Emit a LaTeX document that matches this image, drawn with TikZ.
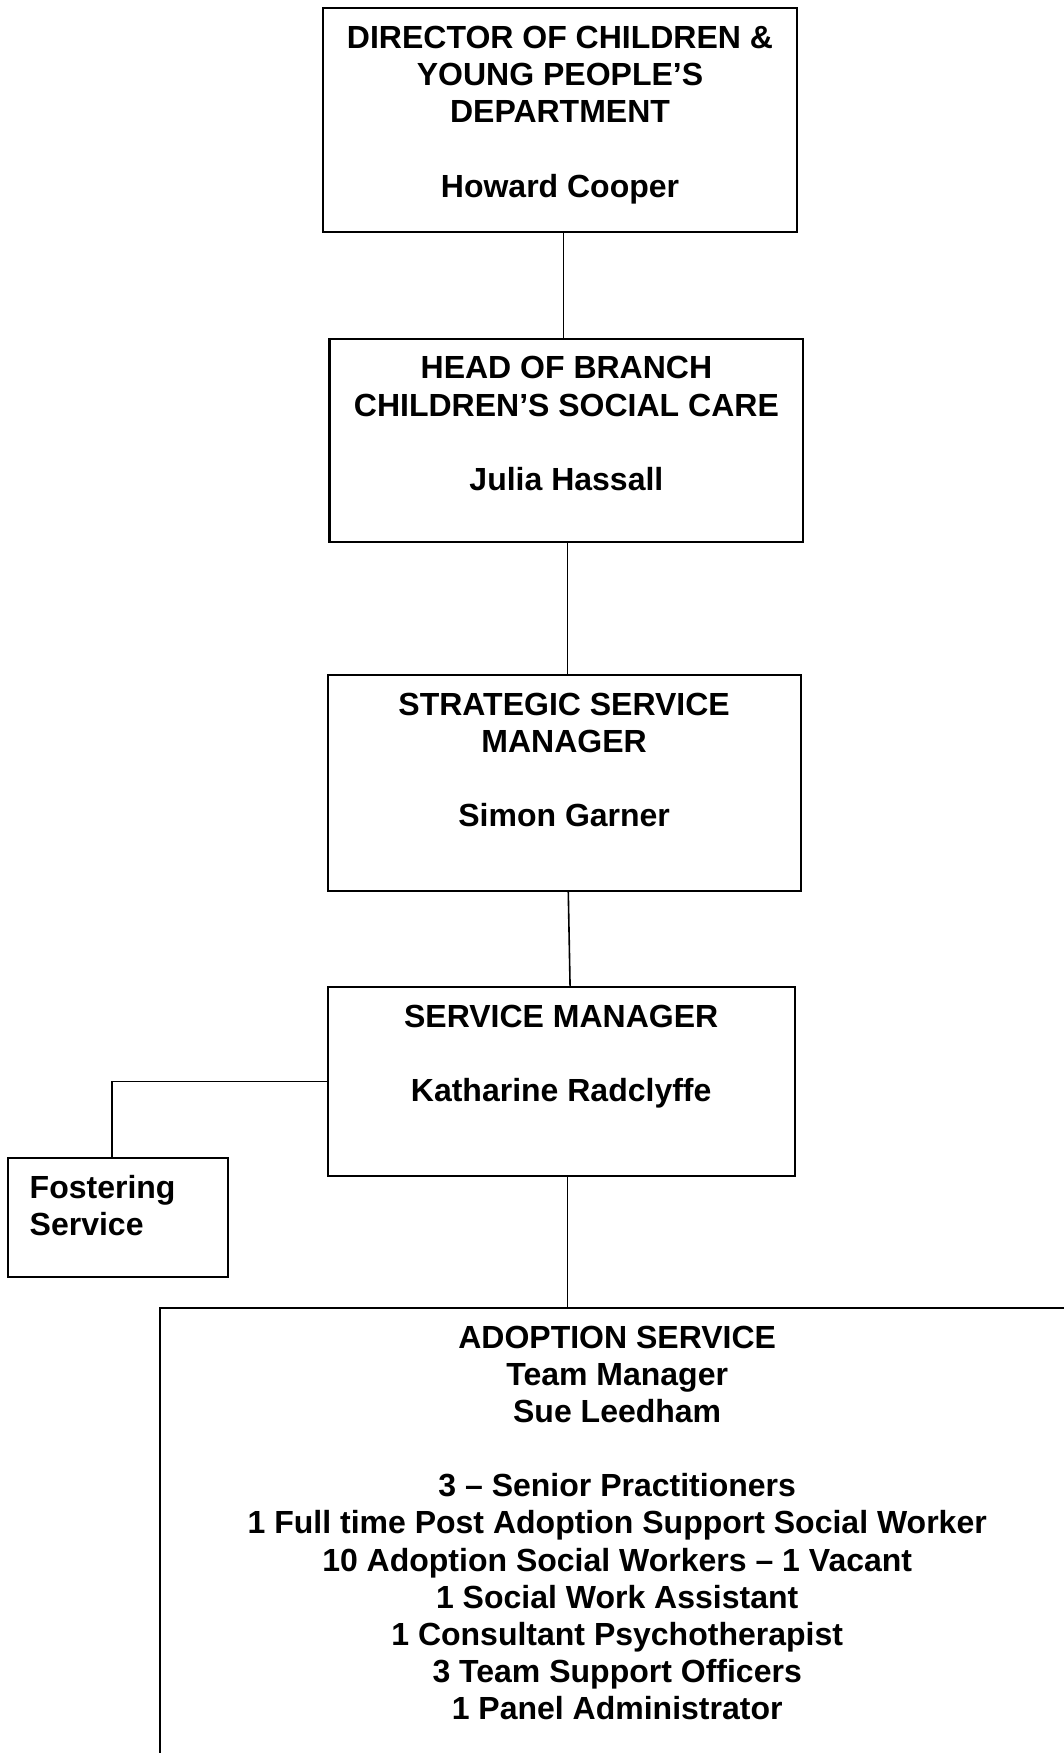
\documentclass[tikz,border=0pt]{standalone}
\usepackage{fontspec}
\setmainfont{Liberation Sans}
\usetikzlibrary{positioning}
\tikzstyle{block} = [rectangle, draw, line width=0.9pt, inner sep=0pt,
    outer sep=0pt, minimum width=207pt]
\tikzstyle{boxtext} = [inner sep=0pt, anchor=north, align=center,
    font=\fontsize{14}{16.25}\selectfont\bfseries]
\tikzstyle{line} = [draw, line width=0.7pt]

\begin{document}
\begin{tikzpicture}
		\useasboundingbox (0,0) rectangle (465.1pt,-766.9pt);
		\node [block, minimum height=97.6pt] (dir) at (245pt,-52.5pt) {};
		\node [block, minimum width=207.3pt, minimum height=88.9pt, below=46.9pt of dir, xshift=2.8pt] (head) {};
		\node [block, minimum height=94.5pt, below=58.2pt of head, xshift=-1pt] (strat) {};
		\node [block, minimum width=204.4pt, minimum height=82.7pt, below=42pt of strat, xshift=-1.3pt] (sm) {};
		\node [block, minimum width=400pt, minimum height=211pt, below=57.75pt of sm, xshift=24.5pt] (adopt) {};
		\node [block, minimum width=96.4pt, minimum height=52.1pt, anchor=north east] (fost) at ([xshift=-43.4pt, yshift=8pt]sm.south west) {};
		
		\node [boxtext] (dirtext) at ([yshift=-7.6pt]dir.north) {DIRECTOR OF CHILDREN \&\\YOUNG PEOPLE’S\\DEPARTMENT\\[16.25pt]Howard Cooper};
		\node [boxtext] (headtext) at ([yshift=-7.6pt]head.north) {HEAD OF BRANCH\\CHILDREN’S SOCIAL CARE\\[16.25pt]Julia Hassall};
		\node [boxtext] (strattext) at ([yshift=-7.6pt]strat.north) {STRATEGIC SERVICE\\MANAGER\\[16.25pt]Simon Garner};
		\node [boxtext] (smtext) at ([yshift=-7.6pt]sm.north) {SERVICE MANAGER\\[16.25pt]Katharine Radclyffe};
		\node [boxtext, anchor=north west, align=left] (fosttext) at ([xshift=9.3pt, yshift=-7.6pt]fost.north west) {Fostering\\Service};
		\node [boxtext] (adopttext) at ([yshift=-7.6pt]adopt.north) {ADOPTION SERVICE\\Team Manager\\Sue Leedham\\[16.25pt]3 – Senior Practitioners\\1 Full time Post Adoption Support Social Worker\\10 Adoption Social Workers – 1 Vacant\\1 Social Work Assistant\\1 Consultant Psychotherapist\\3 Team Support Officers\\1 Panel Administrator};
		
		\path [line] ([xshift=1.5pt]dir.south) -- ([xshift=-1.3pt]head.north);
		\path [line] ([xshift=0.5pt]head.south) -- ([xshift=1.5pt]strat.north);
		\path [line] ([xshift=1.8pt]strat.south) -- ([xshift=3.9pt]sm.north);
		\path [line] (sm.west) -| ([xshift=-2.8pt]fost.north);
		\path [line] ([xshift=2.8pt]sm.south) -- ([xshift=-21.7pt]adopt.north);
	\end{tikzpicture}
\end{document}
